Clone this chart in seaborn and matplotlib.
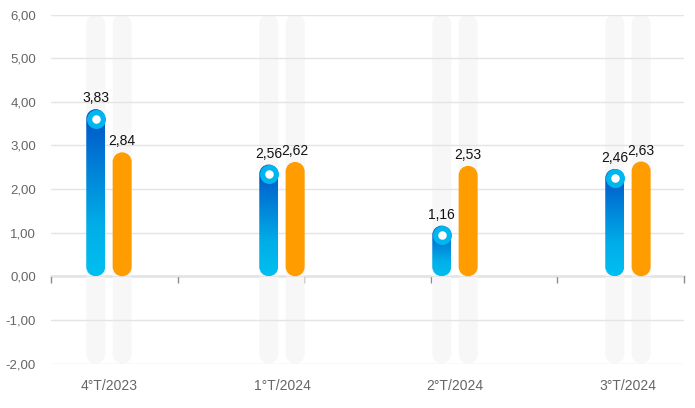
import numpy as np
import pandas as pd
import matplotlib
matplotlib.use("Agg")
import matplotlib.pyplot as plt
import seaborn as sns
from matplotlib.path import Path
from matplotlib.patches import PathPatch
from matplotlib.transforms import Affine2D
from matplotlib.colors import LinearSegmentedColormap

# ---- data ----
periods = ["4°T/2023", "1°T/2024", "2°T/2024", "3°T/2024"]
series_blue = [3.83, 2.56, 1.16, 2.46]
series_orange = [2.84, 2.62, 2.53, 2.63]
y_ticks = [-2, -1, 0, 1, 2, 3, 4, 5, 6]
y_tick_labels = ["-2,00", "-1,00", "0,00", "1,00", "2,00", "3,00", "4,00", "5,00", "6,00"]

# ---- style ----
BLUE_TOP = "#0050c6"
CYAN = "#00b6ee"
ORANGE = "#ff9c00"
TRACK = "#f7f7f7"
GRID = "#e4e4e4"
AXIS = "#8c8c8c"
TICK_TXT = "#666666"

sns.set_theme(style="white")
plt.rcParams["font.family"] = ["Liberation Sans", "DejaVu Sans"]

df = pd.DataFrame({
    "period": periods * 2,
    "value": series_blue + series_orange,
    "series": ["blue"] * len(periods) + ["orange"] * len(periods),
})

W, H = 695, 408
fig = plt.figure(figsize=(W / 100, H / 100), dpi=100)
ax = fig.add_axes([51 / W, 44.5 / H, 633 / W, 349 / H])

sns.barplot(data=df, x="period", y="value", hue="series",
            palette={"blue": CYAN, "orange": ORANGE},
            width=0.305, gap=0.28, legend=False, ax=ax, errorbar=None)

ymin, ymax = min(y_ticks), max(y_ticks)
xlim = (-0.335, 3.324)
ax.set_xlim(*xlim)
ax.set_ylim(ymin, ymax)

# pixels per data unit
p0 = ax.transData.transform((0, 0))
p1 = ax.transData.transform((1, 1))
sx, sy = p1[0] - p0[0], p1[1] - p0[1]


def capsule(xc, y0, y1, r):
    """Closed capsule path (pixel units, x centred on 0) and its transform."""
    yb = y0 * sy + r
    yt = y1 * sy - r
    top = Path.arc(0, 180)
    bot = Path.arc(180, 360)
    vt = top.vertices * r + [0, yt]
    vb = bot.vertices * r + [0, yb]
    ct = top.codes.copy(); ct[0] = Path.LINETO
    cb = bot.codes.copy(); cb[0] = Path.LINETO
    verts = np.vstack([[[r, yb]], vt, vb, [[r, yb]]])
    codes = np.concatenate([[Path.MOVETO], ct, cb, [Path.CLOSEPOLY]])
    tr = Affine2D().scale(1 / sx, 1 / sy).translate(xc, 0) + ax.transData
    return Path(verts, codes), tr


cmap = LinearSegmentedColormap.from_list(
    "bluegrad", [(0.0, "#00bff0"), (0.3, "#00aee8"), (0.7, "#0079d5"), (1.0, BLUE_TOP)])

fmt = lambda v: f"{v:.2f}".replace(".", ",")

for ci, cont in enumerate(ax.containers):
    vals = series_blue if ci == 0 else series_orange
    for patch, v in zip(cont.patches, vals):
        patch.set_visible(False)
        w = patch.get_width()
        xc = patch.get_x() + w / 2
        r = w * sx / 2
        # background track
        path, tr = capsule(xc, ymin, ymax, r)
        ax.add_patch(PathPatch(path, transform=tr, facecolor=TRACK,
                               edgecolor="none", zorder=0.3))
        path, tr = capsule(xc, 0, v, r)
        if ci == 0:
            clip = PathPatch(path, transform=tr, facecolor="none", edgecolor="none")
            ax.add_patch(clip)
            im = ax.imshow(np.linspace(0, 1, 256).reshape(-1, 1), origin="lower",
                           extent=[xc - w / 2, xc + w / 2, 0, v], cmap=cmap,
                           aspect="auto", zorder=2, interpolation="bilinear")
            im.set_clip_path(clip)
            cy = v - r / sy
            d_pt = 2 * r * 72 / 100
            ax.scatter([xc], [cy], s=d_pt ** 2, color=CYAN, zorder=3, linewidths=0)
            ax.scatter([xc], [cy], s=(8.5 * 0.72) ** 2, color="white", zorder=4,
                       linewidths=0)
        else:
            ax.add_patch(PathPatch(path, transform=tr, facecolor=ORANGE,
                                   edgecolor="none", zorder=2))
        ax.annotate(fmt(v), (xc, v), xytext=(0, 4), textcoords="offset pixels",
                    ha="center", va="bottom", fontsize=10, color="#111111", zorder=5)

ax.set_xlim(*xlim)
ax.set_ylim(ymin, ymax)

# axes styling
for s in ax.spines.values():
    s.set_visible(False)
ax.set_yticks(y_ticks, labels=y_tick_labels)
ax.yaxis.grid(True, color=GRID, linewidth=1)
ax.xaxis.grid(False)
ax.set_axisbelow(True)
ax.tick_params(axis="y", length=0, pad=10.8, labelsize=9.5, labelcolor=TICK_TXT)
ax.tick_params(axis="x", length=0, pad=11, labelsize=10, labelcolor=TICK_TXT)
ax.set_xlabel("")
ax.set_ylabel("")

# zero line with tick marks
sec = ax.secondary_xaxis((0 - ymin) / (ymax - ymin))
sec.set_xticks(np.linspace(xlim[0], xlim[1], 6), labels=[""] * 6)
sec.tick_params(length=5, width=1, color=AXIS, direction="out")
for name, s in sec.spines.items():
    s.set_color(AXIS)
    s.set_linewidth(1)

fig.savefig("out.png", dpi=100)
